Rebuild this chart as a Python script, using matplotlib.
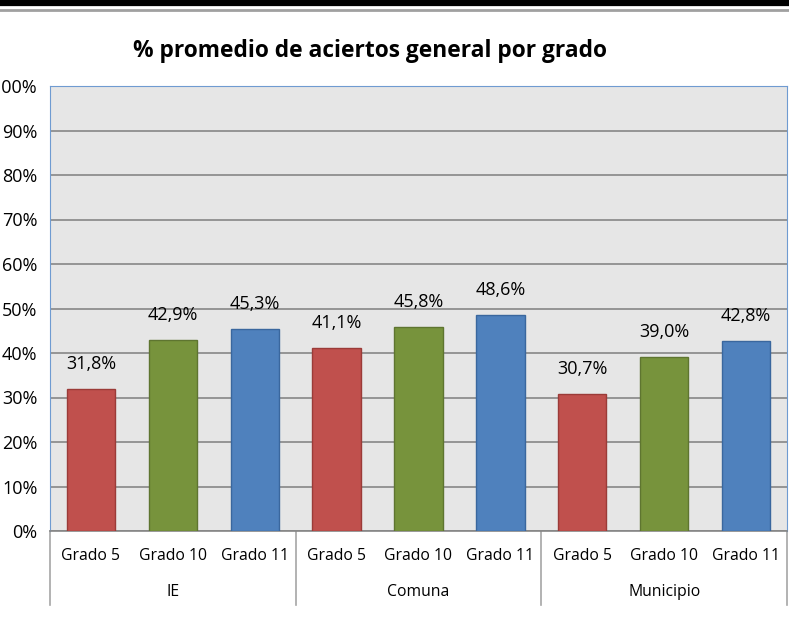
import matplotlib.pyplot as plt
from matplotlib.lines import Line2D
from matplotlib.ticker import PercentFormatter

plt.rcParams['font.family'] = ['Open Sans', 'DejaVu Sans']

groups = ['IE', 'Comuna', 'Municipio']
grades = ['Grado 5', 'Grado 10', 'Grado 11']
values = [31.8, 42.9, 45.3, 41.1, 45.8, 48.6, 30.7, 39.0, 42.8]
colors = ['#C0504D', '#77933C', '#4F81BD']
edges = ['#9B3B38', '#5E7530', '#3A679E']

W, H = 789, 634
fig = plt.figure(figsize=(W / 100, H / 100), dpi=100)
ax = fig.add_axes([50 / W, 1 - 531 / H, 737 / W, 445 / H])
ax.set_facecolor('#E6E6E6')

xs = list(range(len(values)))
for i, v in enumerate(values):
    ax.bar(i, v / 100, width=0.59, color=colors[i % 3], edgecolor=edges[i % 3],
           linewidth=1, zorder=3)
    ax.annotate(f'{v:.1f}%'.replace('.', ','), (i, v / 100), xytext=(0, 18),
                textcoords='offset points', ha='center', va='center', fontsize=13)

ax.set_xlim(-0.5, len(values) - 0.5)
ax.set_ylim(0, 1)
ax.set_yticks([i / 10 for i in range(11)])
ax.yaxis.set_major_formatter(PercentFormatter(1.0, decimals=0))
ax.tick_params(axis='y', length=0, pad=9, labelsize=13)
ax.grid(axis='y', color='#868686', linewidth=1.2, zorder=1)
ax.set_xticks([])
for s in ['left', 'top', 'right']:
    ax.spines[s].set_color('#6F9BD1')
ax.spines['bottom'].set_color('#868686')
ax.spines['bottom'].set_linewidth(1.2)

# category axis labels
for i in xs:
    ax.text(i, -25 / 445, grades[i % 3], ha='center', va='center', fontsize=11.3,
            transform=ax.get_xaxis_transform())
for g, name in enumerate(groups):
    ax.text(3 * g + 1, -61 / 445, name, ha='center', va='center', fontsize=11.3,
            transform=ax.get_xaxis_transform())
for x in [-0.5, 2.5, 5.5, 8.5]:
    ax.plot([x, x], [0, -74 / 445], color='#A6A6A6', linewidth=1.2,
            transform=ax.get_xaxis_transform(), clip_on=False)

fig.text(370 / W, 1 - 51 / H, '% promedio de aciertos general por grado',
         ha='center', va='center', fontsize=16.4, fontweight='bold')

# page borders
fig.add_artist(Line2D([0, 1], [1 - 2.5 / H, 1 - 2.5 / H], color='black', linewidth=4.5))
fig.add_artist(Line2D([0, 1], [1 - 10 / H, 1 - 10 / H], color='#A0A0A0', linewidth=2))

fig.savefig('out.png', dpi=100)
